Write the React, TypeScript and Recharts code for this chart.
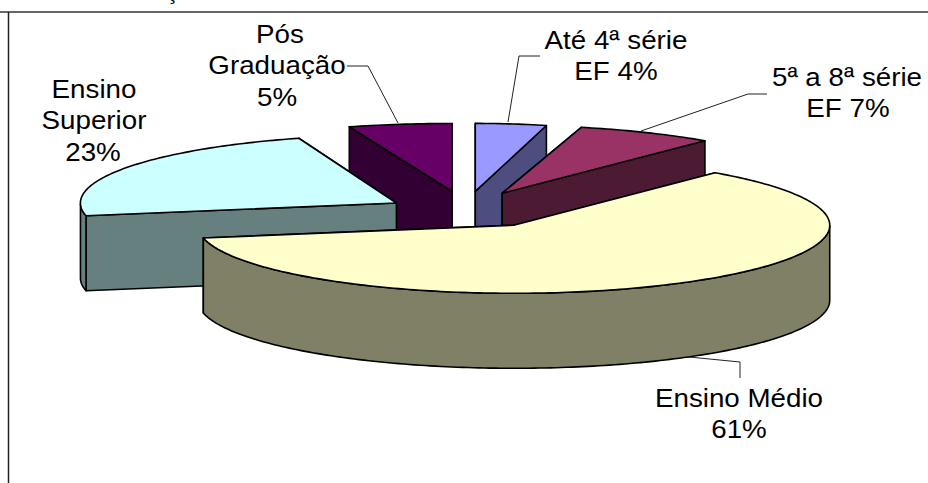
import { PieChart, Pie } from 'recharts'

const names = ['Até 4ª série EF', '5ª a 8ª série EF', 'Ensino Médio', 'Ensino Superior', 'Pós Graduação']
const values = [4, 7, 61, 23, 5]
const topColors = ['#9999FF', '#993366', '#FFFFCC', '#CCFFFF', '#660066']
const wallColors = ['#4D4D80', '#4D1A33', '#808066', '#668080', '#330033']

// back slices first so the front ones cover them
const paintOrder = ['Pós Graduação', 'Até 4ª série EF', '5ª a 8ª série EF', 'Ensino Superior', 'Ensino Médio']

const RADIUS = 315
const SQUASH = 0.216
const DEPTH = 75
const EXPLODE = 82

// the original's perspective bends each slice a little, a flat ellipse can't do that
const perspective: Record<string, { dx: number; dy: number; rx: number }> = {
  'Até 4ª série EF': { dx: -3, dy: -1, rx: 286 },
  '5ª a 8ª série EF': { dx: -3, dy: -1, rx: 318 },
  'Ensino Médio': { dx: 4, dy: 0, rx: 316 },
  'Ensino Superior': { dx: -1, dy: 2, rx: 316 },
  'Pós Graduação': { dx: -3, dy: -1, rx: 333 },
}

const data = names.map((name, i) => ({ name, value: values[i], fill: topColors[i], wall: wallColors[i] }))

const labelLines = [
  { text: 'Pós', x: 280, y: 43 },
  { text: 'Graduação', x: 277, y: 74 },
  { text: '5%', x: 277, y: 106 },
  { text: 'Ensino', x: 94, y: 98 },
  { text: 'Superior', x: 94, y: 129 },
  { text: '23%', x: 93, y: 161 },
  { text: 'Até 4ª série', x: 616, y: 49 },
  { text: 'EF 4%', x: 616, y: 80 },
  { text: '5ª a 8ª série', x: 847, y: 86 },
  { text: 'EF 7%', x: 848, y: 117 },
  { text: 'Ensino Médio', x: 739, y: 407 },
  { text: '61%', x: 739, y: 438 },
]

const leaders = [
  '347,66 368,66 398,123',
  '540,56 519,56 508,122',
  '767,94 748,94 641,131',
  '679,356 740,362 740,378',
]

const rad = (deg: number) => (deg * Math.PI) / 180

function Slice(props: any) {
  const { cx, cy, outerRadius, startAngle, endAngle, midAngle, fill, wall, name } = props
  const bend = perspective[name]
  const rx = bend ? bend.rx : outerRadius
  const ax = cx + EXPLODE * Math.cos(rad(midAngle)) + (bend ? bend.dx : 0)
  const ay = cy - EXPLODE * SQUASH * Math.sin(rad(midAngle)) + (bend ? bend.dy : 0)
  const rimPoint = (deg: number) => ({
    x: ax + rx * Math.cos(rad(deg)),
    y: ay - outerRadius * SQUASH * Math.sin(rad(deg)),
  })
  const rim: { x: number; y: number; deg: number }[] = []
  const count = Math.max(2, Math.ceil(startAngle - endAngle))
  for (let i = 0; i <= count; i++) {
    const deg = startAngle + ((endAngle - startAngle) * i) / count
    rim.push({ ...rimPoint(deg), deg })
  }
  const front = rim.filter((p) => Math.sin(rad(p.deg)) <= 0)
  const start = rim[0]
  const end = rim[rim.length - 1]
  const cut = (p: { x: number; y: number }) =>
    `${ax},${ay} ${p.x},${p.y} ${p.x},${p.y + DEPTH} ${ax},${ay + DEPTH}`
  const cuts = start.y < end.y ? [start, end] : [end, start]
  const style = { stroke: '#000', strokeWidth: 1.6, strokeLinejoin: 'round' as const }

  return (
    <g>
      {cuts.map((p, i) => (
        <polygon key={i} points={cut(p)} fill={wall} {...style} />
      ))}
      {front.length > 1 && (
        <polygon
          points={[
            ...front.map((p) => `${p.x},${p.y}`),
            ...[...front].reverse().map((p) => `${p.x},${p.y + DEPTH}`),
          ].join(' ')}
          fill={wall}
          {...style}
        />
      )}
      <polygon points={[`${ax},${ay}`, ...rim.map((p) => `${p.x},${p.y}`)].join(' ')} fill={fill} {...style} />
    </g>
  )
}

export default function App() {
  return (
    <div style={{ position: 'absolute', left: 0, top: 0, width: 928, height: 483 }}>
      <PieChart width={928} height={483} margin={{ top: 0, right: 0, bottom: 0, left: 0 }}>
        <line x1={0} y1={12} x2={928} y2={12} stroke="#333" strokeWidth={1.5} />
        <line x1={8.5} y1={12} x2={8.5} y2={483} stroke="#222" strokeWidth={1.5} />
        <text x={172} y={-1} textAnchor="middle" fontFamily="Liberation Sans" fontSize={22} fill="#000">
          ç
        </text>
        {paintOrder.map((layer) => (
          <Pie
            key={layer}
            data={data}
            dataKey="value"
            nameKey="name"
            cx={468}
            cy={210}
            outerRadius={RADIUS}
            innerRadius={0}
            startAngle={90}
            endAngle={-270}
            stroke="none"
            isAnimationActive={false}
            shape={(props: any) => (props.name === layer ? <Slice {...props} /> : <g />)}
          />
        ))}
        {leaders.map((points) => (
          <polyline key={points} points={points} fill="none" stroke="#222" strokeWidth={1} />
        ))}
        {labelLines.map((l) => (
          <text
            key={l.text}
            transform={`translate(${l.x},${l.y}) scale(1.11,1)`}
            textAnchor="middle"
            fontFamily="Liberation Sans"
            fontSize={25}
            fill="#000"
          >
            {l.text}
          </text>
        ))}
      </PieChart>
    </div>
  )
}
